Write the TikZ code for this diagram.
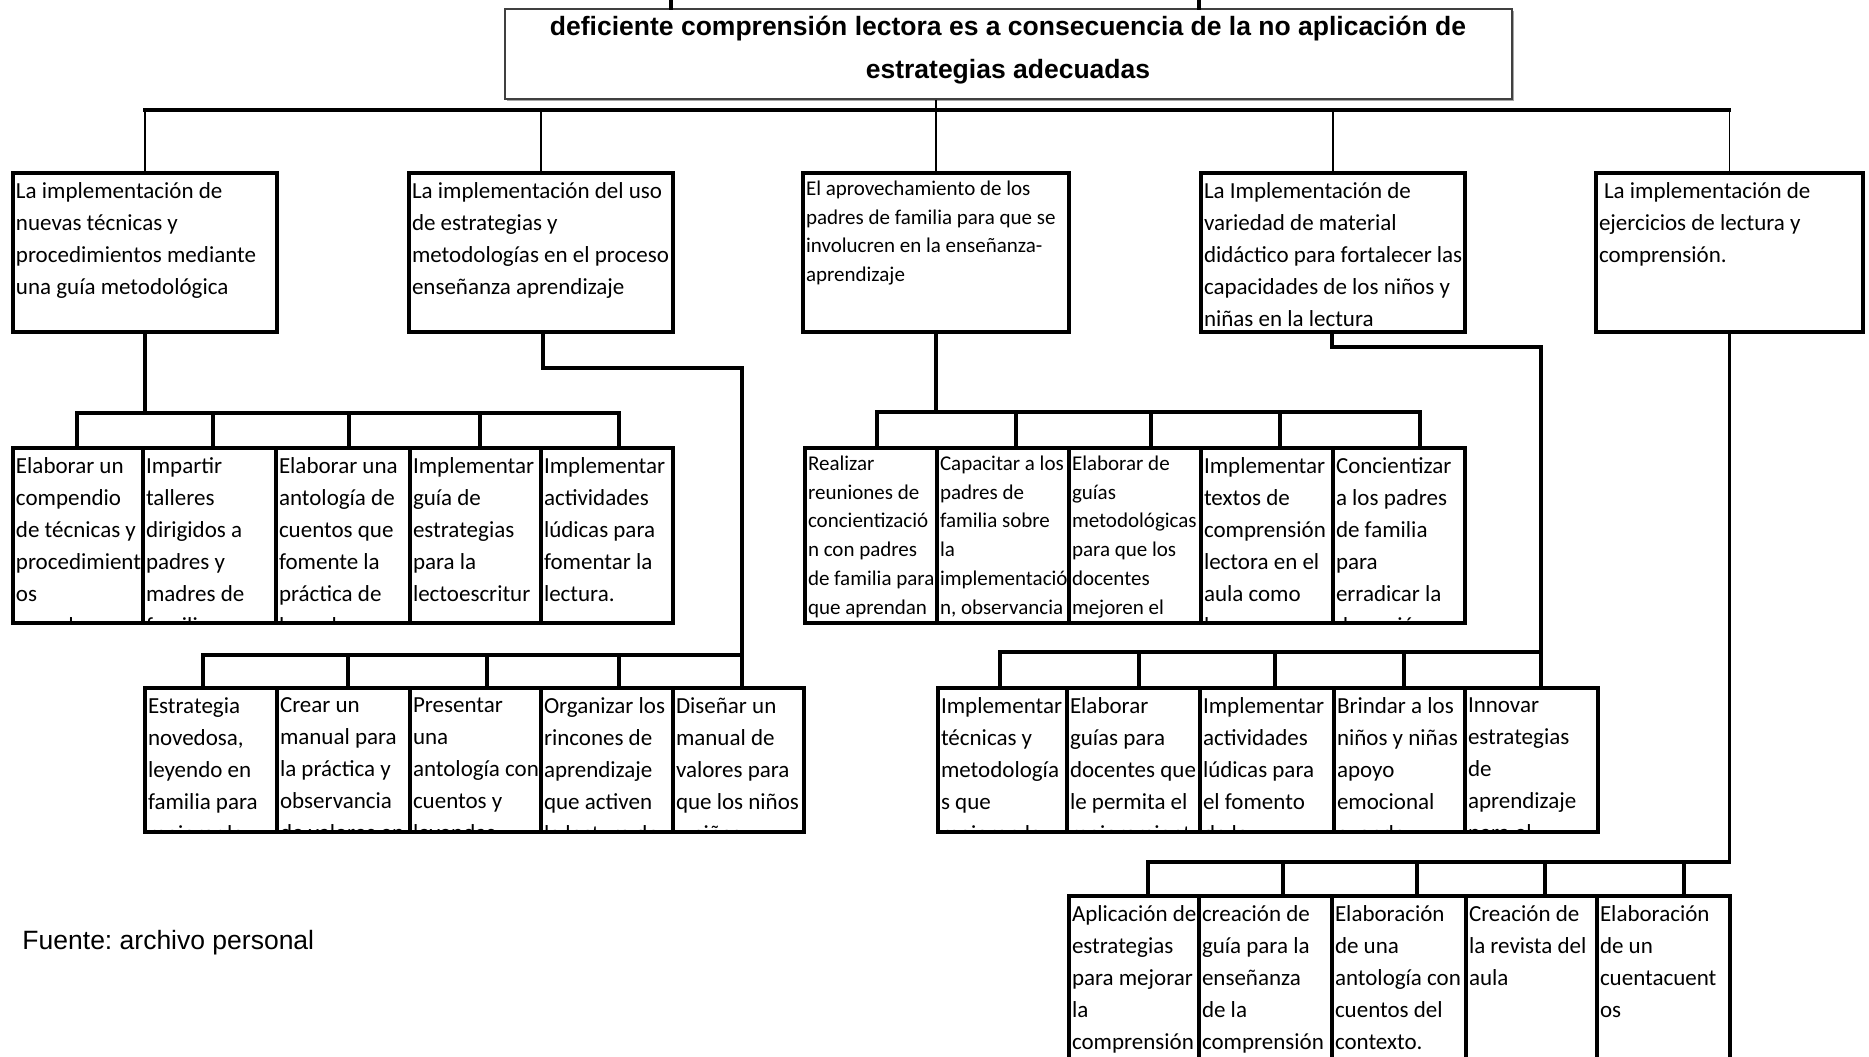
\documentclass[tikz,border=0pt]{standalone}
\usepackage{fontspec}
\setmainfont{Carlito}
\newfontfamily\arialf{Liberation Sans}
\usetikzlibrary{shadows}
\frenchspacing

\newcommand\nstrut{\rule{0pt}{8pt}}
\newcommand\sstrut{\rule{0pt}{7.2pt}}

\tikzset{
  x=0.4pt, y=-0.4pt,
  tn/.style={font=\fontsize{9.2pt}{12.8pt}\selectfont, execute at begin node=\nstrut, yshift=-2.4pt},
  ts/.style={font=\fontsize{8.4pt}{11.5pt}\selectfont, execute at begin node=\sstrut, yshift=-1.5pt},
  celltext/.style={draw=none, fill=none, inner sep=0pt, outer sep=0pt,
    minimum width=0pt, minimum height=0pt, anchor=north west, align=left, text=black},
  cellbox/.style={draw=black, fill=white, line width=1.6pt, inner sep=0pt},
  lvlone/.style={line width=1.35pt},
  conn/.style={draw=black, line width=1.3pt, line cap=rect, line join=miter},
  thinc/.style={draw=black, line width=0.7pt},
  topbox/.style={draw=black!75, line width=0.5pt, fill=white,
    drop shadow={shadow xshift=0.6pt, shadow yshift=-0.6pt, fill=black!35, opacity=1}},
}

% #1 extra box options, #2 name, #3-#6 x1 y1 x2 y2 (px), #7 text style, #8 text
\newcommand\cell[8][]{%
  \node[cellbox, #1, minimum width={(#5-#3)*0.4pt}, minimum height={(#6-#4)*0.4pt},
    path picture={\node[celltext, #7] (#2t) at ([shift={(3,4)}]path picture bounding box.north west) {#8};}]
    (#2) at ({(#3+#5)/2},{(#4+#6)/2}) {};}

\begin{document}
\begin{tikzpicture}
\useasboundingbox (0,0) rectangle (1869,1056);
\clip (0,0) rectangle (1869,1056);
\fill[white] (0,0) rectangle (1869,1056);

% ---------- top box ----------
\node[topbox, minimum width={1007*0.4pt}, minimum height={90*0.4pt}, inner sep=0pt] (top) at (1008.5,54) {};
\node[inner sep=0pt, anchor=north, align=center,
  font={\arialf\bfseries\fontsize{10.6pt}{17.2pt}\selectfont},
  execute at begin node=\rule{0pt}{8pt}] (title) at (1008,16)
  {deficiente comprensión lectora es a consecuencia de la no aplicación de\\estrategias adecuadas};

% ---------- level 1 ----------
\cell[lvlone]{B1}{13}{173}{277}{332}{tn}{La implementación de\\nuevas técnicas y\\procedimientos mediante\\una guía metodológica}
\cell[lvlone]{B2}{409}{173}{673}{332}{tn}{La implementación del uso\\de estrategias y\\metodologías en el proceso\\enseñanza aprendizaje}
\cell[lvlone]{B3}{803}{173}{1069}{332}{ts}{El aprovechamiento de los\\padres de familia para que se\\involucren en la enseñanza-\\aprendizaje}
\cell[lvlone]{B4}{1201}{173}{1465}{332}{tn}{La Implementación de\\variedad de material\\didáctico para fortalecer las\\capacidades de los niños y\\niñas en la lectura}
\cell[lvlone]{B5}{1596}{173}{1863}{332}{tn}{\hspace*{2pt}La implementación de\\ejercicios de lectura y\\comprensión.}

% ---------- row A ----------
\cell{A1}{13}{448}{143}{623}{tn}{Elaborar un\\compendio\\de técnicas y\\procedimient\\os\\novedosos}
\cell{A2}{143}{448}{276}{623}{tn}{Impartir\\talleres\\dirigidos a\\padres y\\madres de\\familia que}
\cell{A3}{276}{448}{410}{623}{tn}{Elaborar una\\antología de\\cuentos que\\fomente la\\práctica de\\los valores}
\cell{A4}{410}{448}{541}{623}{tn}{Implementar\\guía de\\estrategias\\para la\\lectoescritur\\a que}
\cell{A5}{541}{448}{673}{623}{tn}{Implementar\\actividades\\lúdicas para\\fomentar la\\lectura.}

% ---------- row C ----------
\cell{C1}{805}{448}{937}{623}{ts}{Realizar\\reuniones de\\concientizació\\n con padres\\de familia para\\que aprendan}
\cell{C2}{937}{448}{1069}{623}{ts}{Capacitar a los\\padres de\\familia sobre\\la\\implementació\\n, observancia}
\cell{C3}{1069}{448}{1201}{623}{ts}{Elaborar de\\guías\\metodológicas\\para que los\\docentes\\mejoren el}
\cell{C4}{1201}{448}{1333}{623}{tn}{Implementar\\textos de\\comprensión\\lectora en el\\aula como\\base}
\cell{C5}{1333}{448}{1465}{623}{tn}{Concientizar\\a los padres\\de familia\\para\\erradicar la\\deserción}

% ---------- row D ----------
\cell{D1}{145}{688}{277}{832}{tn}{Estrategia\\novedosa,\\leyendo en\\familia para\\mejorar la}
\cell{D2}{277}{688}{410}{832}{tn}{Crear un\\manual para\\la práctica y\\observancia\\de valores en}
\cell{D3}{410}{688}{541}{832}{tn}{Presentar\\una\\antología con\\cuentos y\\leyendas}
\cell{D4}{541}{688}{673}{832}{tn}{Organizar los\\rincones de\\aprendizaje\\que activen\\la lectura de}
\cell{D5}{673}{688}{804}{832}{tn}{Diseñar un\\manual de\\valores para\\que los niños\\y niñas}

% ---------- row E ----------
\cell{E1}{938}{688}{1067}{832}{tn}{Implementar\\técnicas y\\metodología\\s que\\mejoren la}
\cell{E2}{1067}{688}{1200}{832}{tn}{Elaborar\\guías para\\docentes que\\le permita el\\mejoramient}
\cell{E3}{1200}{688}{1334}{832}{tn}{Implementar\\actividades\\lúdicas para\\el fomento\\de la}
\cell{E4}{1334}{688}{1465}{832}{tn}{Brindar a los\\niños y niñas\\apoyo\\emocional\\cuando}
\cell{E5}{1465}{688}{1598}{832}{tn}{Innovar\\estrategias\\de\\aprendizaje\\para el}

% ---------- row F ----------
\cell{F1}{1069}{896}{1199}{1075}{tn}{Aplicación de\\estrategias\\para mejorar\\la\\comprensión}
\cell{F2}{1199}{896}{1332}{1075}{tn}{creación de\\guía para la\\enseñanza\\de la\\comprensión}
\cell{F3}{1332}{896}{1466}{1075}{tn}{Elaboración\\de una\\antología con\\cuentos del\\contexto.}
\cell{F4}{1466}{896}{1597}{1075}{tn}{Creación de\\la revista del\\aula}
\cell{F5}{1597}{896}{1730}{1075}{tn}{Elaboración\\de un\\cuentacuent\\os}

% ---------- source note ----------
\node[anchor=base west, inner sep=0pt, font={\arialf\fontsize{10.6pt}{12.8pt}\selectfont}] (fuente) at (22,949) {Fuente: archivo personal};

% ---------- connectors ----------
\coordinate (st1) at (671,0);
\coordinate (st2) at (1199,0);
\draw[conn] (st1) -- (st1 |- top.north);
\draw[conn] (st2) -- (st2 |- top.north);

\coordinate (bus0) at (0,110);
\draw[thinc] (B3.north |- top.south) -- (B3.north |- bus0);
\draw[conn] (B1.north |- bus0) -- (B5.north |- bus0);
\foreach \b in {B1,B2,B3,B4,B5} \draw[thinc] (\b.north |- bus0) -- (\b.north);

% B1 -> row A
\coordinate (a1) at (77,413);  \coordinate (a2) at (213,413); \coordinate (a3) at (349,413);
\coordinate (a4) at (480,413); \coordinate (a5) at (619,413);
\draw[conn] (B1.south) -- (B1.south |- a1);
\draw[conn] (a1) -- (a5);
\draw[conn] (a1) -- (a1 |- A1.north);
\draw[conn] (a2) -- (a2 |- A2.north);
\draw[conn] (a3) -- (a3 |- A3.north);
\draw[conn] (a4) -- (a4 |- A4.north);
\draw[conn] (a5) -- (a5 |- A5.north);

% B2 -> row D
\coordinate (d0) at (543,368); \coordinate (d1) at (742,368);
\coordinate (dd1) at (203,655); \coordinate (dd2) at (348,655); \coordinate (dd3) at (487,655);
\coordinate (dd4) at (619,655); \coordinate (dd5) at (742,655);
\draw[conn] (d0 |- B2.south) -- (d0) -- (d1) -- (dd5);
\draw[conn] (dd1) -- (dd5);
\draw[conn] (dd1) -- (dd1 |- D1.north);
\draw[conn] (dd2) -- (dd2 |- D2.north);
\draw[conn] (dd3) -- (dd3 |- D3.north);
\draw[conn] (dd4) -- (dd4 |- D4.north);
\draw[conn] (dd5) -- (dd5 |- D5.north);

% B3 -> row C
\coordinate (c1) at (877,412);  \coordinate (c2) at (1016,412); \coordinate (c3) at (1151,412);
\coordinate (c4) at (1280,412); \coordinate (c5) at (1420,412);
\draw[conn] (B3.south) -- (B3.south |- c1);
\draw[conn] (c1) -- (c5);
\draw[conn] (c1) -- (c1 |- C1.north);
\draw[conn] (c2) -- (c2 |- C2.north);
\draw[conn] (c3) -- (c3 |- C3.north);
\draw[conn] (c4) -- (c4 |- C4.north);
\draw[conn] (c5) -- (c5 |- C5.north);

% B4 -> row E
\coordinate (e0) at (1332,347); \coordinate (e1) at (1541,347);
\coordinate (ee1) at (1000,652); \coordinate (ee2) at (1139,652); \coordinate (ee3) at (1275,652);
\coordinate (ee4) at (1404,652); \coordinate (ee5) at (1541,652);
\draw[conn] (e0 |- B4.south) -- (e0) -- (e1) -- (ee5);
\draw[conn] (ee1) -- (ee5);
\draw[conn] (ee1) -- (ee1 |- E1.north);
\draw[conn] (ee2) -- (ee2 |- E2.north);
\draw[conn] (ee3) -- (ee3 |- E3.north);
\draw[conn] (ee4) -- (ee4 |- E4.north);
\draw[conn] (ee5) -- (ee5 |- E5.north);

% B5 -> row F
\coordinate (ff1) at (1148,862); \coordinate (ff2) at (1283,862); \coordinate (ff3) at (1417,862);
\coordinate (ff4) at (1545,862); \coordinate (ff5) at (1684,862);
\draw[conn] (B5.south) -- (B5.south |- ff1) -- (ff1);
\draw[conn] (ff1) -- (ff1 |- F1.north);
\draw[conn] (ff2) -- (ff2 |- F2.north);
\draw[conn] (ff3) -- (ff3 |- F3.north);
\draw[conn] (ff4) -- (ff4 |- F4.north);
\draw[conn] (ff5) -- (ff5 |- F5.north);
\end{tikzpicture}
\end{document}
